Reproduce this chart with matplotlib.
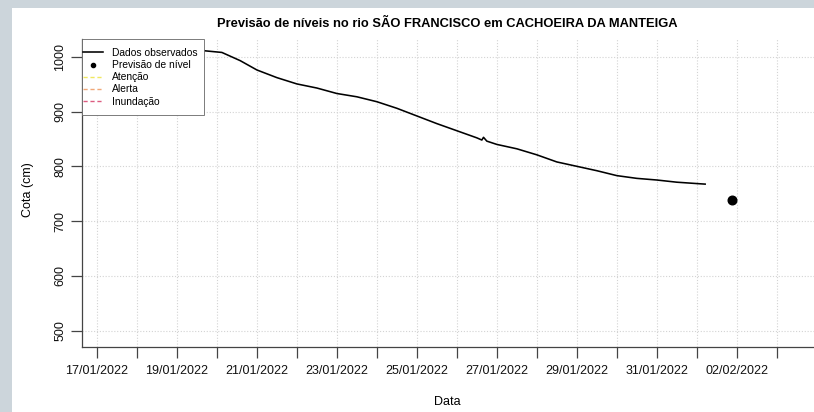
import numpy as np
import pandas as pd
import matplotlib
matplotlib.use('Agg')
from matplotlib import pyplot
from matplotlib.patches import Rectangle
from matplotlib.lines import Line2D

pyplot.rcParams['font.family'] = ['Liberation Sans', 'DejaVu Sans']

#observed levels (cm):
obs_dates = ['2022-01-17 06:00', '2022-01-18 00:00', '2022-01-19 00:00', '2022-01-19 15:00',
             '2022-01-20 03:00', '2022-01-20 14:00', '2022-01-21 00:00', '2022-01-21 12:00',
             '2022-01-22 00:00', '2022-01-22 12:00', '2022-01-23 00:00', '2022-01-23 12:00',
             '2022-01-24 00:00', '2022-01-24 12:00', '2022-01-25 00:00', '2022-01-25 12:00',
             '2022-01-26 00:00', '2022-01-26 12:00', '2022-01-26 15:00', '2022-01-26 16:00',
             '2022-01-26 18:00', '2022-01-27 00:00', '2022-01-27 12:00', '2022-01-28 00:00',
             '2022-01-28 12:00', '2022-01-29 00:00', '2022-01-29 12:00', '2022-01-30 00:00',
             '2022-01-30 12:00', '2022-01-31 00:00', '2022-01-31 12:00', '2022-02-01 00:00',
             '2022-02-01 05:00']
obs_cota  = [1012, 1012, 1012, 1011.5,
             1008, 993, 976, 962,
             950.5, 943, 933, 927,
             918, 906, 892, 878,
             865, 852, 848, 853,
             846, 840, 832, 821,
             808, 800, 792, 783,
             778, 775, 771, 768.5,
             767.5]

#forecast:
prev_date = ['2022-02-01 21:00']
prev_cota = [738]

legend_labels = ['Dados observados', 'Previsão de nível', 'Atenção', 'Alerta', 'Inundação']
day_ticks = pd.date_range('2022-01-17', '2022-02-03', freq='D')

t_obs  = pd.to_datetime(obs_dates)
t_prev = pd.to_datetime(prev_date)

W, H = 814, 412
fig = pyplot.figure(figsize=(W/100, H/100), dpi=100)
fig.patch.set_facecolor('#ccd5db')
fig.patches.append(Rectangle((12/W, 0), 1, (H-8)/H, transform=fig.transFigure,
                             facecolor='white', edgecolor='none', zorder=-5))

ax_l, ax_b, ax_w, ax_h = 81.7, 347, W - 81.7, 347 - 39.3   #pixels
ax = fig.add_axes([ax_l/W, (H-ax_b)/H, ax_w/W, ax_h/H])
ax.set_facecolor('none')

x0 = pd.Timestamp('2022-01-17')
ax.set_xlim(x0 - pd.Timedelta(days=0.38), x0 + pd.Timedelta(days=17.93))
ax.set_ylim(470, 1032)

ax.plot(t_obs, obs_cota, color='black', lw=1.15, zorder=3)
ax.plot(t_prev, prev_cota, 'o', color='black', ms=6.2, zorder=3)

#grid
for t in day_ticks:
    ax.axvline(t, color='#d3d3d3', lw=0.8, ls=(0, (1, 1.6)), zorder=1)
for v in range(500, 1001, 100):
    ax.axhline(v, color='#d3d3d3', lw=0.8, ls=(0, (1, 1.6)), zorder=1)

ax.set_xticks(day_ticks)
ax.set_xticklabels([t.strftime('%d/%m/%Y') if i % 2 == 0 else '' for i, t in enumerate(day_ticks)])
ax.set_yticks(range(500, 1001, 100))
ax.set_yticklabels([str(v) for v in range(500, 1001, 100)], rotation=90, va='center')
ax.tick_params(axis='both', length=8, width=0.9, color='#444444', labelsize=9, labelcolor='#111111')
ax.tick_params(axis='x', pad=5)
ax.tick_params(axis='y', pad=3)

for s in ['top', 'right']:
    ax.spines[s].set_visible(False)
for s in ['left', 'bottom']:
    ax.spines[s].set_color('#444444')
    ax.spines[s].set_linewidth(0.9)

ax.set_xlabel('Data', fontsize=9, va='center')
ax.xaxis.set_label_coords((447 - ax_l) / ax_w, (ax_b - 401.7) / ax_h)
ax.set_ylabel('Cota (cm)', fontsize=9, va='center')
ax.yaxis.set_label_coords((28 - ax_l) / ax_w, (ax_b - 190) / ax_h)
fig.text(447.5/W, 1 - 24/H, 'Previsão de níveis no rio SÃO FRANCISCO em CACHOEIRA DA MANTEIGA',
         ha='center', va='center', fontsize=9.3, fontweight='bold')

#legend box (R style)
ax.add_patch(Rectangle((0, (ax_b - 114.7) / ax_h), (204 - ax_l) / ax_w, (114.7 - 39.3) / ax_h,
                       transform=ax.transAxes, facecolor='white', edgecolor='#666666',
                       lw=0.6, zorder=4, clip_on=False))
handles = [Line2D([], [], color='black', lw=1.15),
           Line2D([], [], color='black', marker='o', ls='none', ms=3),
           Line2D([], [], color='#f0e860', lw=1.0, ls=(0, (3, 2))),
           Line2D([], [], color='#f0a878', lw=1.0, ls=(0, (3, 2))),
           Line2D([], [], color='#dc5c80', lw=1.0, ls=(0, (3, 2)))]
leg = ax.legend(handles, legend_labels, loc='upper left',
                bbox_to_anchor=((83.3 - ax_l) / ax_w, (ax_b - 48.0) / ax_h),
                fontsize=7.4, frameon=False, borderaxespad=0, borderpad=0,
                handlelength=1.95, handletextpad=0.88, labelspacing=0.21)
leg.set_zorder(5)

pyplot.savefig('out.png', dpi=100, facecolor=fig.get_facecolor())
